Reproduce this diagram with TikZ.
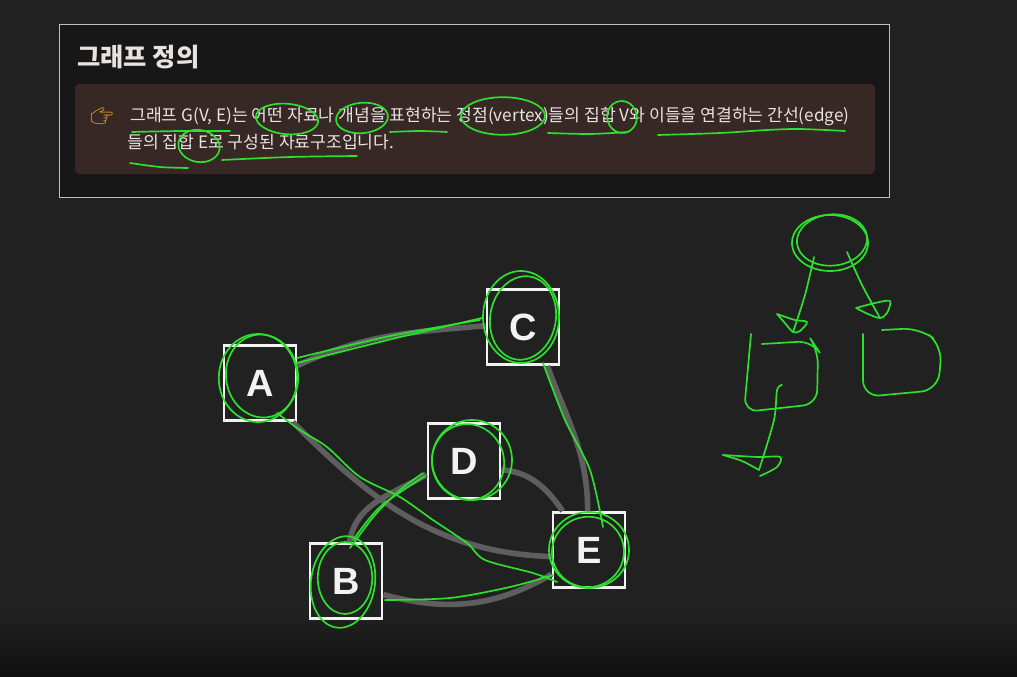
\documentclass[tikz,border=0pt]{standalone}
\usepackage{fontspec}
\setsansfont{Liberation Sans}
\newfontfamily\krfont{Noto Sans CJK KR}
\newfontfamily\emojifont{Noto Emoji}
\usetikzlibrary{positioning, calc}
\definecolor{clrbg}{HTML}{212121}
\definecolor{clrbgdark}{HTML}{101010}
\definecolor{clrpanel}{HTML}{171717}
\definecolor{clrpanelframe}{HTML}{BDBDBD}
\definecolor{clrcallout}{HTML}{372825}
\definecolor{clrtext}{HTML}{E6E3E2}
\definecolor{clredge}{HTML}{5E5E5E}
\definecolor{clrvertex}{HTML}{F2F2F2}
\definecolor{clrpen}{HTML}{2EE02E}
\definecolor{clrhand}{HTML}{F0A328}

\begin{document}
\begin{tikzpicture}[
    x=0.025cm, y=-0.025cm,
    vertex/.style={draw=clrvertex, line width=2pt, fill=clrbg, minimum width=1.8cm,
                   minimum height=1.88cm, inner sep=0pt, text=clrvertex,
                   font=\sffamily\bfseries\fontsize{27}{27}\selectfont},
    edge/.style={draw=clredge, line width=4pt},
    pen/.style={draw=clrpen, line width=1.2pt, line cap=round, line join=round},
    heading/.style={anchor=west, inner sep=0pt, text=clrtext, font=\krfont\bfseries\fontsize{18}{22}\selectfont},
    bodytext/.style={anchor=west, inner sep=0pt, text=clrtext, font=\krfont\fontsize{12.2}{15}\selectfont},
]
% screen
\fill[clrbg] (0,0) rectangle (1017,676);
\shade[top color=clrbg, bottom color=clrbgdark] (0,612) rectangle (1017,676);
\useasboundingbox (0,0) rectangle (1017,676);

% definition panel
\draw[clrpanelframe, fill=clrpanel, line width=0.7pt] (59,24) rectangle (889,197);
\fill[clrcallout, rounded corners=3pt] (75,84) rectangle (875,174);
\node[heading] (title) at (77,57) {그래프 정의};
\node[text=clrhand, inner sep=0pt, font=\emojifont\fontsize{13}{13}\selectfont] (hand) at (102,116) {👉};
\node[bodytext] (line_1) at (130,116) {그래프 G(V, E)는 어떤 자료나 개념을 표현하는 정점(vertex)들의 집합 V와 이들을 연결하는 간선(edge)};
\node[bodytext] (line_2) at (127,142) {들의 집합 E로 구성된 자료구조입니다.};

% graph
\node[vertex] (node_a) at (260,383) {A};
\node[vertex] (node_c) at (523,327) {C};
\node[vertex] (node_d) at (464,461) {D};
\node[vertex] (node_b) at (346,581) {B};
\node[vertex] (node_e) at (589,550) {E};
\draw[edge] (node_a.25) to[out=25, in=185] (node_c.178);
\draw[edge] (node_a.-50) to[out=-45, in=178] (node_e.190);
\draw[edge] (node_b.85) to[out=80, in=210] (node_d.200);
\draw[edge] (node_d.-13) to[out=-5, in=125] (node_e.124);
\draw[edge] (node_c.-58) to[out=-70, in=90] (node_e.92);
\draw[edge] (node_b.-20) to[out=-15, in=210] (node_e.213);

% hand marks on the text
\draw[pen] plot[smooth] coordinates {(132,132) (180,131) (230,131)};
\draw[pen] (287,119) ellipse [x radius=0.78cm, y radius=0.38cm, rotate=-5];
\draw[pen] (362,118) ellipse [x radius=0.65cm, y radius=0.38cm, rotate=5];
\draw[pen] plot[smooth] coordinates {(390,132) (420,131) (447,132)};
\draw[pen] (503,116) ellipse [x radius=1.05cm, y radius=0.47cm];
\draw[pen] plot[smooth] coordinates {(548,133) (590,134) (628,132)};
\draw[pen] (622,117) ellipse [x radius=0.37cm, y radius=0.4cm, rotate=10];
\draw[pen] plot[smooth] coordinates {(658,135) (720,133) (767,130) (800,129) (845,131)};
\draw[pen] plot[smooth] coordinates {(130,163) (160,167) (188,168)};
\draw[pen] (199,146) ellipse [x radius=0.52cm, y radius=0.4cm, rotate=-10];
\draw[pen] plot[smooth] coordinates {(222,160) (290,157) (357,156)};

% hand marks on the graph
\draw[pen] (258,378) ellipse [x radius=0.98cm, y radius=1.1cm];
\draw[pen] (262,376) ellipse [x radius=0.9cm, y radius=1.04cm, rotate=8];
\draw[pen] (521,317) ellipse [x radius=0.95cm, y radius=1.15cm];
\draw[pen] (523,318) ellipse [x radius=0.82cm, y radius=1.05cm, rotate=-10];
\draw[pen] (472,460) ellipse [x radius=1.0cm, y radius=1.0cm];
\draw[pen] (468,462) ellipse [x radius=0.9cm, y radius=0.95cm, rotate=15];
\draw[pen] (343,582) ellipse [x radius=0.8cm, y radius=1.15cm, rotate=-8];
\draw[pen] (345,578) ellipse [x radius=0.68cm, y radius=0.9cm];
\draw[pen] (589,550) ellipse [x radius=1.0cm, y radius=0.95cm];
\draw[pen] (588,552) ellipse [x radius=0.9cm, y radius=0.88cm, rotate=10];
\draw[pen] plot[smooth] coordinates {(297,358) (390,336) (480,320)};
\draw[pen] plot[smooth] coordinates {(297,363) (392,339) (482,318)};
\draw[pen] plot[smooth] coordinates {(277,413) (300,430) (327,447) (360,477) (400,497) (433,520) (467,543) (485,560) (533,573) (557,582)};
\draw[pen] plot[smooth] coordinates {(350,548) (375,515) (400,490) (423,473)};
\draw[pen] plot[smooth] coordinates {(353,540) (380,507) (425,476)};
\draw[pen] plot[smooth] coordinates {(543,363) (565,420) (590,470) (603,527)};
\draw[pen] plot[smooth] coordinates {(385,600) (450,598) (510,587) (553,575)};

% tree sketch
\draw[pen] (830,243) ellipse [x radius=0.95cm, y radius=0.7cm];
\draw[pen] (832,240) ellipse [x radius=0.88cm, y radius=0.64cm, rotate=5];
\draw[pen] plot[smooth] coordinates {(814,257) (805,295) (793,332)};
\draw[pen] plot[smooth] coordinates {(777,314) (795,320) (807,322) (800,331) (793,332) (784,322) (777,314)};
\draw[pen] plot[smooth] coordinates {(847,252) (862,285) (880,318)};
\draw[pen] plot[smooth] coordinates {(856,308) (875,303) (890,301) (887,313) (880,318) (868,314) (856,308)};
\draw[pen, rounded corners=10pt] (751,334) -- (744,412) -- (817,404) -- (818,350) -- (812,341) -- (762,344);
\draw[pen, rounded corners=12pt] (863,334) -- (863,397) -- (938,390) -- (942,345) -- (920,328) -- (882,330);
\draw[pen] plot[smooth] coordinates {(782,385) (777,390) (774,420) (759,470)};
\draw[pen] plot[smooth] coordinates {(723,455) (758,457) (780,457) (777,467) (760,476)};
\draw[pen] plot[smooth] coordinates {(723,455) (742,461) (759,470)};
\end{tikzpicture}
\end{document}
